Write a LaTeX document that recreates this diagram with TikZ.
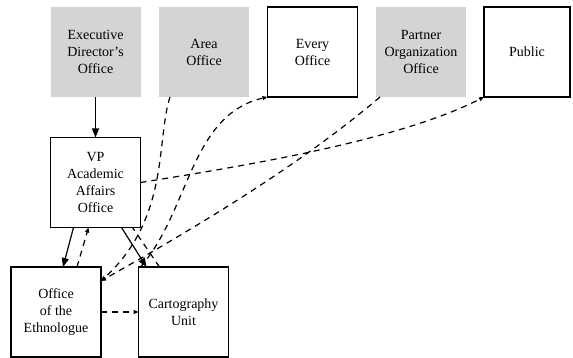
\documentclass[tikz,border=0pt]{standalone}
\usepackage{fontspec}
\setmainfont{Liberation Serif}
\usetikzlibrary{arrows.meta}
\definecolor{boxgray}{RGB}{212,212,212}
\tikzset{
  unit/.style={minimum width=90pt, minimum height=90pt, inner sep=0pt, outer sep=0pt,
    align=center, font=\fontsize{14}{17}\selectfont},
  shaded/.style={unit, fill=boxgray},
  framed/.style={unit, draw=black, line width=1.3pt, fill=white},
  flow/.style={line width=1.2pt, -{Triangle[length=9pt,width=7pt]}},
  link/.style={line width=1.2pt, dash pattern=on 6pt off 5pt, -{Triangle[length=5pt,width=4pt]}},
  plainlink/.style={line width=1.2pt, dash pattern=on 6pt off 5pt}
}
\begin{document}
\begin{tikzpicture}[x=1pt, y=-1pt]
\useasboundingbox (0,0) rectangle (573,358);

% top row
\node[shaded] (exec) at (95.5,52) {Executive\\Director's\\Office};
\node[shaded] (area) at (204,52) {Area\\Office};
\node[framed] (every) at (312.5,52) {Every\\Office};
\node[shaded] (partner) at (421,52) {Partner\\Organization\\Office};
\node[framed, minimum width=86pt] (public) at (527,52) {Public};

% middle and bottom
\node[framed] (vp) at (95.5,182.5) {VP\\Academic\\Affairs\\Office};
\node[framed] (ethno) at (56,312) {Office\\of the\\Ethnologue};
\node[framed] (carto) at (183.5,312) {Cartography\\Unit};

% reporting lines
\draw[flow] (exec.south) -- (vp.north);
\draw[flow] ([xshift=-22pt]vp.south) -- ([xshift=7pt]ethno.north);
\draw[flow] ([xshift=26pt]vp.south) -- ([xshift=-37pt]carto.north);

% information flows
\draw[link] ([xshift=21pt]ethno.north) -- ([xshift=-7pt]vp.south);
\draw[plainlink] ([xshift=-24pt]carto.north) -- ([xshift=37pt]vp.south);
\draw[link] (ethno.east) -- (carto.west);

\coordinate (ecorner) at ([yshift=-14pt]ethno.north east);
\draw[link] ([xshift=-34pt]area.south) .. controls (156,140) and (170,218) .. (ecorner);
\draw[link] ([xshift=4pt]partner.south west) .. controls (300,165) and (200,225) .. (ecorner);
\draw[link] ([xshift=2pt]carto.north west) .. controls (190,210) and (190,115) .. (every.south west);
\draw[link] (vp.east) .. controls (250,165) and (400,140) .. (public.south west);
\end{tikzpicture}
\end{document}
